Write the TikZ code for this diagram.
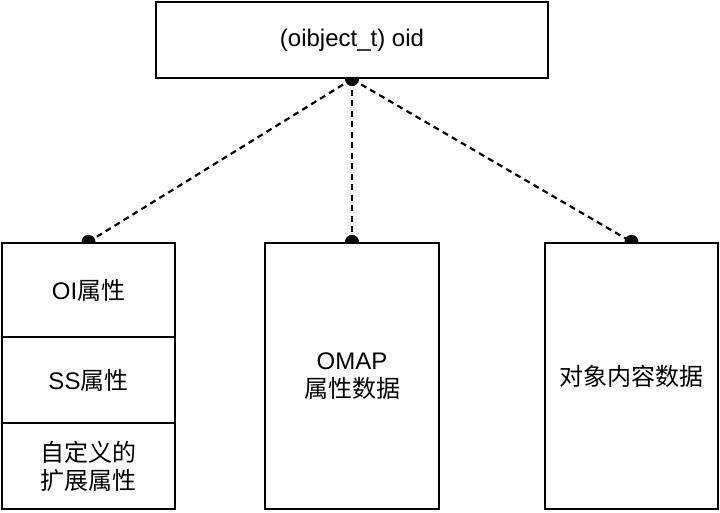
\documentclass[tikz,border=0pt]{standalone}
\usepackage{fontspec}
\setmainfont{Liberation Sans}
\newfontfamily\cjk{Noto Sans CJK SC}
\usetikzlibrary{backgrounds}
\begin{document}
\begin{tikzpicture}[x=1pt,y=-1pt,
  box/.style={draw=black,line width=2.2pt,fill=white,inner sep=0pt,align=center,
    font=\fontsize{24}{28}\selectfont},
  link/.style={draw=black,line width=2.2pt,dash pattern=on 6pt off 4.5pt},
  dot/.style={fill=black}]
\useasboundingbox (0,0) rectangle (720,512);
\node[box,minimum width=392pt,minimum height=76pt] (top) at (352,40) {(oibject\_t) oid};
\node[box,minimum width=173pt,minimum height=94pt] (oi) at (88.5,290) {OI{\cjk 属性}};
\node[box,minimum width=173pt,minimum height=86pt] (ss) at (88.5,380) {SS{\cjk 属性}};
\node[box,minimum width=173pt,minimum height=86pt] (ext) at (88.5,466) {{\cjk 自定义的}\\{\cjk 扩展属性}};
\node[box,minimum width=174pt,minimum height=266pt] (omap) at (352,376) {OMAP\\{\cjk 属性数据}};
\node[box,minimum width=173pt,minimum height=266pt] (content) at (631.5,376) {{\cjk 对象内容数据}};
\begin{scope}[on background layer]
  \draw[link] (top.south) -- (oi.north);
  \draw[link] (top.south) -- (omap.north);
  \draw[link] (top.south) -- (content.north);
  \fill[dot] (top.south) circle (7pt);
  \fill[dot] (oi.north) circle (7pt);
  \fill[dot] (omap.north) circle (7pt);
  \fill[dot] (content.north) circle (7pt);
\end{scope}
\end{tikzpicture}
\end{document}
